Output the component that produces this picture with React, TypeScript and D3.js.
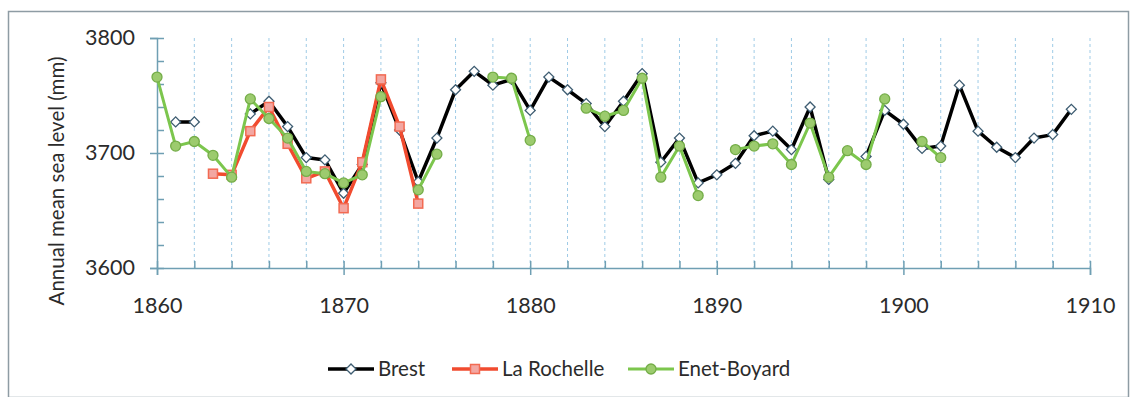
import React, { useEffect, useRef } from 'react';
import * as d3 from 'd3';

// annual mean sea level (mm), years 1860..1909, null = no data
const years = d3.range(1860, 1910);

const brest: (number | null)[] = [
    null, 3727, 3727, null, null, 3734, 3745, 3723, 3696, 3694,
    3665, 3690, 3761, 3720, 3675, 3713, 3755, 3771, 3759, 3764,
    3737, 3766, 3755, 3743, 3723, 3745, 3769, 3692, 3713, 3674,
    3681, 3691, 3715, 3719, 3703, 3740, 3677, null, 3697, 3737,
    3725, 3704, 3706, 3759, 3719, 3705, 3696, 3713, 3716, 3738,
];

const laRochelle: (number | null)[] = [
    null, null, null, 3682, 3681, 3719, 3740, 3708, 3678, 3684,
    3652, 3692, 3764, 3723, 3656,
];

const enetBoyard: (number | null)[] = [
    3766, 3706, 3710, 3698, 3679, 3747, 3730, 3713, 3684, 3682,
    3674, 3681, 3749, null, 3668, 3699, null, null, 3766, 3765,
    3711, null, null, 3739, 3732, 3737, 3765, 3679, 3706, 3663,
    null, 3703, 3706, 3708, 3690, 3726, 3679, 3702, 3690, 3747,
    null, 3710, 3696,
];

const seriesNames = ['Brest', 'La Rochelle', 'Enet-Boyard'];
const xTicks = [1860, 1870, 1880, 1890, 1900, 1910];
const yTicks = [3600, 3700, 3800];

const FONT = 'Lato, "Open Sans", sans-serif';

const App: React.FC = () => {
    const svgRef = useRef<SVGSVGElement>(null);

    const width = 1135;
    const height = 397;

    useEffect(() => {
        if (!svgRef.current) return;
        const svg = d3.select(svgRef.current);
        svg.selectAll('*').remove();

        const left = 157, right = 1090, top = 38, bottom = 268;

        const x = d3.scaleLinear().domain([1860, 1910]).range([left, right]);
        const y = d3.scaleLinear().domain([3600, 3800]).range([bottom, top]);

        // frame
        svg.append('rect')
            .attr('x', 8.5).attr('y', 11.5)
            .attr('width', 1120).attr('height', 386)
            .attr('fill', '#fff')
            .attr('stroke', '#8e9ca4')
            .attr('stroke-width', 1.5);

        // vertical dashed grid every 2 years
        svg.append('g')
            .selectAll('line')
            .data(d3.range(1862, 1911, 2))
            .join('line')
            .attr('x1', d => x(d)).attr('x2', d => x(d))
            .attr('y1', top).attr('y2', bottom)
            .attr('stroke', '#9fcbe6')
            .attr('stroke-width', 1)
            .attr('stroke-dasharray', '3,3');

        const axisColor = '#6f9fb3';

        // y axis: major ticks outside, minor ticks inside
        const yAxis = svg.append('g')
            .attr('transform', `translate(${left},0)`)
            .call(d3.axisLeft(y).tickValues(yTicks).tickSize(7).tickPadding(15).tickFormat(d3.format('d')));
        svg.append('g')
            .attr('transform', `translate(${left},0)`)
            .call(d3.axisRight(y).tickValues(d3.range(3600, 3801, 20)).tickSize(7).tickFormat(() => ''))
            .call(g => g.select('.domain').remove());

        // x axis: major ticks outside, minor ticks inside
        const xAxis = svg.append('g')
            .attr('transform', `translate(0,${bottom})`)
            .call(d3.axisBottom(x).tickValues(xTicks).tickSize(7).tickPadding(23).tickFormat(d3.format('d')));
        svg.append('g')
            .attr('transform', `translate(0,${bottom})`)
            .call(d3.axisTop(x).tickValues(d3.range(1860, 1911, 2)).tickSize(7).tickFormat(() => ''))
            .call(g => g.select('.domain').remove());

        svg.selectAll('.domain, .tick line')
            .attr('stroke', axisColor)
            .attr('stroke-width', 1.5);
        [yAxis, xAxis].forEach(a => a.selectAll('text')
            .attr('font-family', FONT)
            .attr('font-size', 21.5)
            .attr('fill', '#2b2b2b'));

        // y title
        svg.append('text')
            .attr('transform', `translate(64,${(top + 324) / 2}) rotate(-90)`)
            .attr('text-anchor', 'middle')
            .attr('font-family', FONT)
            .attr('font-size', 20.5)
            .attr('fill', '#2b2b2b')
            .text('Annual mean sea level (mm)');

        const line = d3.line<number | null>()
            .defined(d => d != null)
            .x((d, i) => x(years[i]))
            .y(d => y(d as number));

        const pts = (arr: (number | null)[]) =>
            arr.map((v, i) => ({ year: years[i], v })).filter(p => p.v != null) as { year: number, v: number }[];

        // Brest
        svg.append('path')
            .datum(brest)
            .attr('fill', 'none')
            .attr('stroke', '#000')
            .attr('stroke-width', 3.5)
            .attr('stroke-linejoin', 'round')
            .attr('d', line);
        svg.append('g')
            .selectAll('path')
            .data(pts(brest))
            .join('path')
            .attr('d', d3.symbol(d3.symbolSquare, 50)())
            .attr('transform', d => `translate(${x(d.year)},${y(d.v)}) rotate(45)`)
            .attr('fill', '#fff')
            .attr('stroke', '#3e5d72')
            .attr('stroke-width', 1.3);

        // La Rochelle
        svg.append('path')
            .datum(laRochelle)
            .attr('fill', 'none')
            .attr('stroke', '#f14b2f')
            .attr('stroke-width', 3.5)
            .attr('stroke-linejoin', 'round')
            .attr('d', line);
        svg.append('g')
            .selectAll('rect')
            .data(pts(laRochelle))
            .join('rect')
            .attr('x', d => x(d.year) - 4.5)
            .attr('y', d => y(d.v) - 4.5)
            .attr('width', 9).attr('height', 9)
            .attr('fill', '#f3a7a2')
            .attr('stroke', '#f26a52')
            .attr('stroke-width', 1.5);

        // Enet-Boyard
        svg.append('path')
            .datum(enetBoyard)
            .attr('fill', 'none')
            .attr('stroke', '#7cc64d')
            .attr('stroke-width', 3)
            .attr('stroke-linejoin', 'round')
            .attr('d', line);
        svg.append('g')
            .selectAll('circle')
            .data(pts(enetBoyard))
            .join('circle')
            .attr('cx', d => x(d.year))
            .attr('cy', d => y(d.v))
            .attr('r', 5)
            .attr('fill', '#9ccb6e')
            .attr('stroke', '#74ad48')
            .attr('stroke-width', 1.3);

        // legend
        const legendX = [328, 452, 628];
        const ly = 369;
        const legend = svg.append('g');
        seriesNames.forEach((name, i) => {
            const g = legend.append('g').attr('transform', `translate(${legendX[i]},${ly})`);
            const col = ['#000', '#f14b2f', '#7cc64d'][i];
            g.append('line')
                .attr('x1', 0).attr('x2', 46)
                .attr('stroke', col)
                .attr('stroke-width', i === 2 ? 3 : 3.5);
            if (i === 0) {
                g.append('path')
                    .attr('d', d3.symbol(d3.symbolSquare, 50)())
                    .attr('transform', 'translate(23,0) rotate(45)')
                    .attr('fill', '#fff').attr('stroke', '#3e5d72').attr('stroke-width', 1.3);
            } else if (i === 1) {
                g.append('rect')
                    .attr('x', 18.5).attr('y', -4.5).attr('width', 9).attr('height', 9)
                    .attr('fill', '#f3a7a2').attr('stroke', '#f26a52').attr('stroke-width', 1.5);
            } else {
                g.append('circle')
                    .attr('cx', 23).attr('r', 5)
                    .attr('fill', '#9ccb6e').attr('stroke', '#74ad48').attr('stroke-width', 1.3);
            }
            g.append('text')
                .attr('x', 50)
                .attr('dy', '0.35em')
                .attr('font-family', FONT)
                .attr('font-size', 20.5)
                .attr('fill', '#2b2b2b')
                .text(name);
        });
    }, []);

    return (
        <svg ref={svgRef} width={width} height={height}
            style={{ position: 'absolute', left: 0, top: 0, background: '#fff' }}></svg>
    );
};

export default App;
